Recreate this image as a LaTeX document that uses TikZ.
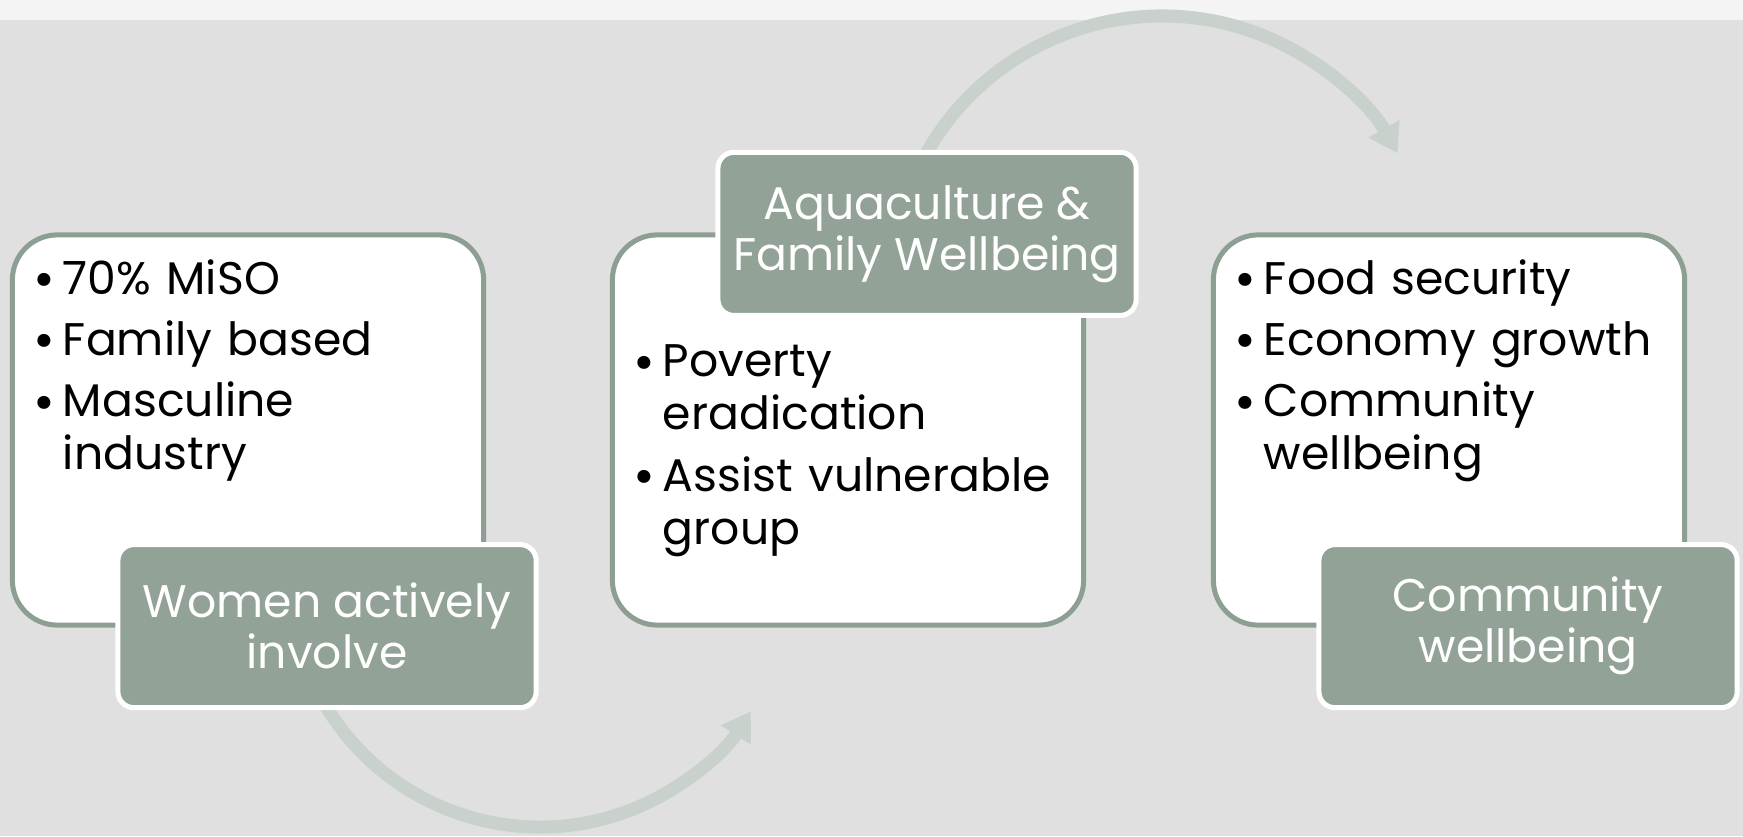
\documentclass[tikz,border=0pt]{standalone}
\usepackage{fontspec}
\setmainfont{Poppins}
\usetikzlibrary{positioning, arrows.meta}
\definecolor{slide}{HTML}{E0E0E0}
\definecolor{slidetop}{HTML}{F4F4F4}
\definecolor{sage}{HTML}{93A297}
\definecolor{sageline}{HTML}{8D9E93}
\definecolor{arcgrey}{HTML}{C9D1CC}
\newcommand{\blt}[1]{\par\noindent\makebox[8.5pt][l]{\raisebox{-1pt}{\fontsize{15}{15}\selectfont\textbullet}}#1}
\newcommand{\nxt}{\newline\hspace*{8.5pt}}
\tikzstyle{panel} = [rectangle, rounded corners=0.45cm, minimum width=4.71cm, minimum height=3.9cm, draw=sageline, line width=0.05cm, fill=white]
\tikzstyle{tag} = [rectangle, rounded corners=0.16cm, minimum width=4.18cm, minimum height=1.63cm, draw=white, line width=0.05cm, fill=sage, text=white, align=center, font=\fontsize{13}{14.5}\selectfont]
\tikzstyle{bullets} = [anchor=north west, inner sep=0pt, text width=4.6cm, font=\fontsize{13}{15.1}\selectfont, execute at begin node={\setlength{\parskip}{2.3pt}}]
\tikzstyle{flow} = [line width=0.13cm, draw=arcgrey, -{Triangle[length=0.28cm, width=0.34cm]}]

\begin{document}
\begin{tikzpicture}[x=0.01cm, y=-0.01cm, node distance=1.96cm]
  \fill[slide] (0,0) rectangle (1743,836);
  \fill[slidetop] (0,0) rectangle (1743,20);
  \useasboundingbox (0,0) rectangle (1743,836);

  % arcs start under the tags
  \coordinate (loop1) at (313.4,682.7);
  \coordinate (loop2) at (916.4,172.5);
  \draw [flow] (loop1) arc[start angle=155, end angle=32.5, radius=250];
  \draw [flow] (loop2) arc[start angle=205, end angle=330.4, radius=271];

  \node (ind) [panel] at (248,430) {};
  \node (aqua) [panel] at (848,430) {};
  \node (comm) [panel] at (1449,430) {};

  \node (women) [tag, below of=ind, xshift=0.79cm] {Women actively\\involve};
  \node (family) [tag, above of=aqua, xshift=0.79cm] {Aquaculture \&\\Family Wellbeing};
  \node (welfare) [tag, below of=comm, xshift=0.79cm] {Community\\wellbeing};

  \node (indlist) [bullets] at ([xshift=0.225cm, yshift=0cm]ind.north west)
    {\blt{70\% MiSO}\blt{Family based}\blt{Masculine\nxt industry}};
  \node (aqualist) [bullets] at ([xshift=0.225cm, yshift=-0.825cm]aqua.north west)
    {\blt{Poverty\nxt eradication}\blt{Assist vulnerable\nxt group}};
  \node (commlist) [bullets] at ([xshift=0.225cm, yshift=0cm]comm.north west)
    {\blt{Food security}\blt{Economy growth}\blt{Community\nxt wellbeing}};
\end{tikzpicture}
\end{document}
